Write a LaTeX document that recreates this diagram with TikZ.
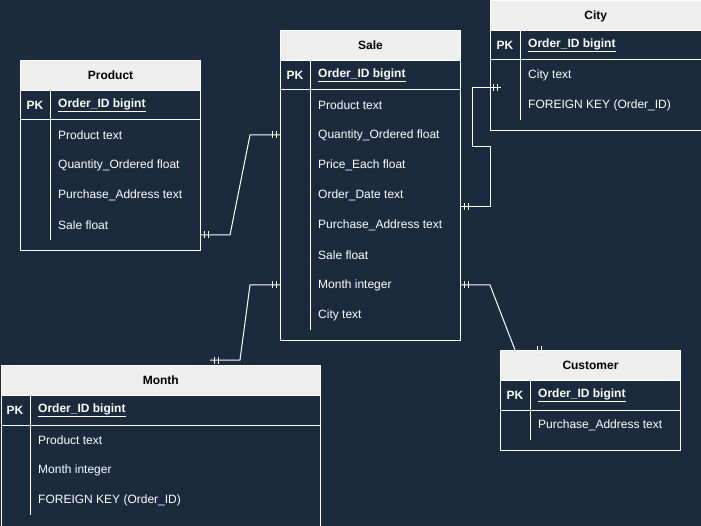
\documentclass[tikz,border=0pt]{standalone}
\usepackage{fontspec}
\setmainfont{Liberation Sans}
\usepackage{xcolor}
\usepackage{tikz}
\usetikzlibrary{decorations.markings}

\definecolor{navy}{HTML}{1B2A3C}
\definecolor{hdrgray}{HTML}{EEEEEE}
\newcommand{\erfont}{\fontsize{12}{14}\selectfont}

\begin{document}
\begin{tikzpicture}[x=1pt,y=-1pt,
  hdr/.style={draw=white, line width=1pt, fill=hdrgray, text=black, font=\erfont\bfseries,
    inner sep=0pt, minimum height=30pt, anchor=north west},
  tblbody/.style={draw=white, line width=1pt, fill=navy, inner sep=0pt, anchor=north west},
  sep/.style={draw=white, line width=1pt},
  fld/.style={text=white, font=\erfont, inner sep=0pt, anchor=west},
  pkey/.style={text=white, font=\erfont\bfseries, inner sep=0pt},
  keyfld/.style={text=white, font=\erfont\bfseries, inner sep=0pt, anchor=west},
  rel/.style={draw=white, line width=1pt},
  tick/.style={postaction={decorate, decoration={markings,
    mark=at position #1 with {\draw[white, line width=1pt] (0pt,-3.5pt) -- (0pt,3.5pt);}}}}
]
\useasboundingbox (0,0) rectangle (701,526);
\fill[navy] (0,0) rectangle (701,526);

% Product
\node[tblbody, minimum width=180pt, minimum height=160pt] (productbody) at (20,90) {};
\node[hdr, minimum width=180pt] (product) at (20,60) {Product};
\draw[sep] (20,120) -- (200,120);
\draw[sep] (50,90) -- (50,240);
\node[pkey] (productpk) at (35,105) {PK};
\node[keyfld] (productid) at (58,105) {\underline{Order\_ID bigint}};
\foreach \t [count=\i] in {Product text, Quantity\_Ordered float, Purchase\_Address text, Sale float}
  \node[fld] (productf\i) at (58,105+30*\i) {\t};

% Sale
\node[tblbody, minimum width=180pt, minimum height=280pt] (salebody) at (280,60) {};
\node[hdr, minimum width=180pt] (sale) at (280,30) {Sale};
\draw[sep] (280,90) -- (460,90);
\draw[sep] (310,60) -- (310,330);
\node[pkey] (salepk) at (295,75) {PK};
\node[keyfld] (saleid) at (318,75) {\underline{Order\_ID bigint}};
\foreach \t [count=\i] in {Product text, Quantity\_Ordered float, Price\_Each float, Order\_Date text,
    Purchase\_Address text, Sale float, Month integer, City text}
  \node[fld] (salef\i) at (318,75+30*\i) {\t};

% City
\node[tblbody, minimum width=210.5pt, minimum height=100pt] (citybody) at (490,30) {};
\node[hdr, minimum width=210.5pt] (city) at (490,0.5) {City};
\draw[sep] (490,60) -- (700.5,60);
\draw[sep] (520,30) -- (520,120);
\node[pkey] (citypk) at (505,45) {PK};
\node[keyfld] (cityid) at (528,45) {\underline{Order\_ID bigint}};
\foreach \t [count=\i] in {City text, FOREIGN KEY (Order\_ID)}
  \node[fld] (cityf\i) at (528,45+30*\i) {\t};

% Month
\node[tblbody, minimum width=319.5pt, minimum height=130.5pt] (monthbody) at (0.5,395) {};
\node[hdr, minimum width=319.5pt] (month) at (0.5,365) {Month};
\draw[sep] (0.5,425) -- (320,425);
\draw[sep] (30,395) -- (30,515);
\node[pkey] (monthpk) at (15,410) {PK};
\node[keyfld] (monthid) at (38,410) {\underline{Order\_ID bigint}};
\foreach \t [count=\i] in {Product text, Month integer, FOREIGN KEY (Order\_ID)}
  \node[fld] (monthf\i) at (38,410+30*\i) {\t};

% Customer
\node[tblbody, minimum width=180pt, minimum height=70pt] (customerbody) at (500,380) {};
\node[hdr, minimum width=180pt] (customer) at (500,350) {Customer};
\draw[sep] (500,410) -- (680,410);
\draw[sep] (530,380) -- (530,440);
\node[pkey] (customerpk) at (515,395) {PK};
\node[keyfld] (customerid) at (538,395) {\underline{Order\_ID bigint}};
\node[fld] (customerf1) at (538,425) {Purchase\_Address text};

% relations
\coordinate (prodout) at (200,235);
\coordinate (salein1) at (280,135);
\coordinate (saleout1) at (460,207);
\coordinate (cityin) at (501,88);
\coordinate (salein2) at (280,285);
\coordinate (monthin) at (210,360);
\coordinate (saleout2) at (460,285);
\coordinate (customerin) at (515,350);

\draw[rel, tick=4pt, tick=8pt, tick=-4pt, tick=-8pt] (prodout) -- (230,235) -- (250,135) -- (salein1);
\draw[rel, tick=4pt, tick=8pt, tick=-4pt, tick=-8pt] (saleout1) -- (490,207) -- (490,147) -- (472,147) -- (472,88) -- (cityin);
\draw[rel, tick=4pt, tick=8pt, tick=-4pt, tick=-8pt] (salein2) -- (250,285) -- (240,360) -- (monthin);
\draw[rel, tick=4pt, tick=8pt] (saleout2) -- (490,285) -- (customerin);
\draw[rel] (537,346) -- (537,353);
\draw[rel] (541,346) -- (541,353);

\end{tikzpicture}
\end{document}
